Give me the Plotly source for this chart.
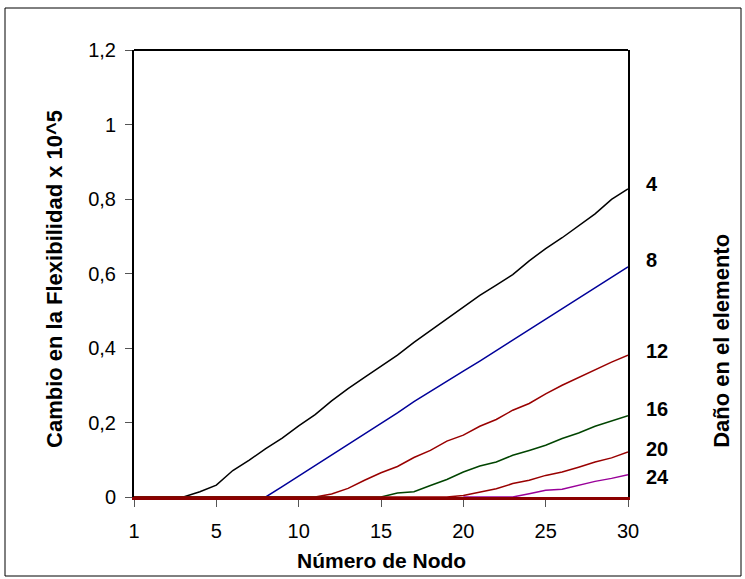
import plotly.graph_objects as go

# Node positions along the axis (tick "1" sits at the first position)
nodos = list(range(0, 31))
tick_vals = [0, 5, 10, 15, 20, 25, 30]
tick_text = ["1", "5", "10", "15", "20", "25", "30"]
y_tick_vals = [0, 0.2, 0.4, 0.6, 0.8, 1.0, 1.2]
y_tick_text = ["0", "0,2", "0,4", "0,6", "0,8", "1", "1,2"]

# Change in flexibility (x 10^5) for damage at element 4, 8, 12, 16, 20, 24
dano_4 = [0, 0, 0, 0, 0.014, 0.032, 0.071, 0.099, 0.130, 0.158, 0.191, 0.221, 0.258,
          0.291, 0.321, 0.350, 0.381, 0.415, 0.446, 0.479, 0.509, 0.541, 0.569,
          0.597, 0.634, 0.667, 0.696, 0.728, 0.760, 0.799, 0.827]
dano_8 = [0, 0, 0, 0, 0, 0, 0, 0, 0, 0.028, 0.056, 0.084, 0.112, 0.141, 0.169, 0.197,
          0.226, 0.256, 0.284, 0.311, 0.338, 0.365, 0.393, 0.421, 0.449, 0.477,
          0.504, 0.532, 0.560, 0.589, 0.618]
dano_12 = [0, 0, 0, 0, 0, 0, 0, 0, 0, 0, 0, 0, 0.008, 0.023, 0.045, 0.065, 0.082,
           0.106, 0.125, 0.150, 0.166, 0.190, 0.208, 0.233, 0.251, 0.277, 0.300,
           0.321, 0.342, 0.362, 0.381]
dano_16 = [0, 0, 0, 0, 0, 0, 0, 0, 0, 0, 0, 0, 0, 0, 0, 0, 0.011, 0.014, 0.031,
           0.047, 0.067, 0.083, 0.094, 0.112, 0.125, 0.139, 0.157, 0.172, 0.190,
           0.204, 0.218]
dano_20 = [0, 0, 0, 0, 0, 0, 0, 0, 0, 0, 0, 0, 0, 0, 0, 0, 0, 0, 0, 0, 0.004, 0.013,
           0.022, 0.036, 0.045, 0.058, 0.067, 0.080, 0.094, 0.105, 0.121]
nodos_24 = list(range(20, 31))
dano_24 = [0, 0, 0, 0, 0.009, 0.018, 0.021, 0.032, 0.042, 0.050, 0.060]

series = [
    ("4", nodos, dano_4, "#000000"),
    ("8", nodos, dano_8, "#000099"),
    ("12", nodos, dano_12, "#990000"),
    ("16", nodos, dano_16, "#004400"),
    ("20", nodos, dano_20, "#990000"),
    ("24", nodos_24, dano_24, "#990099"),
]
label_y = [0.84, 0.635, 0.391, 0.236, 0.128, 0.053]

fig = go.Figure()
for name, xs, ys, col in series:
    fig.add_trace(go.Scatter(x=xs, y=ys, mode="lines", name=name,
                             line=dict(color=col, width=1.5), showlegend=False))

font_family = "Liberation Sans, Arial, sans-serif"
for (name, xs, ys, col), ly in zip(series, label_y):
    fig.add_annotation(x=1 + 16 / 494, xref="paper", y=ly, yref="y", text="<b>%s</b>" % name,
                       showarrow=False, xanchor="left", yanchor="middle",
                       font=dict(size=20, color="black", family=font_family))

fig.add_annotation(x=-0.16, y=0.4877, xref="paper", yref="paper",
                   text="<b>Cambio en la Flexibilidad x 10^5</b>", textangle=-90,
                   showarrow=False, xanchor="center", yanchor="middle",
                   font=dict(size=22, color="black", family=font_family))
fig.add_annotation(x=0.5, y=-0.141, xref="paper", yref="paper",
                   text="<b>Número de Nodo</b>", showarrow=False,
                   xanchor="center", yanchor="middle",
                   font=dict(size=21, color="black", family=font_family))
fig.add_annotation(x=1.190, y=0.349, xref="paper", yref="paper",
                   text="<b>Daño en el elemento</b>", textangle=-90, showarrow=False,
                   xanchor="center", yanchor="middle",
                   font=dict(size=22, color="black", family=font_family))

# outer frame
fig.add_shape(type="rect", xref="paper", yref="paper",
              x0=(5 - 134) / 494, x1=(741 - 134) / 494,
              y0=(497 - 576) / 447, y1=(497 - 8) / 447,
              line=dict(color="black", width=1), layer="below")
# top border of plot area
fig.add_shape(type="line", xref="paper", yref="paper", x0=0, x1=1, y0=1, y1=1,
              line=dict(color="black", width=2), layer="below")

fig.update_layout(
    width=745, height=579,
    margin=dict(l=134, r=117, t=50, b=82),
    paper_bgcolor="white", plot_bgcolor="white",
    font=dict(family=font_family, color="black"),
    xaxis=dict(range=[0, 30], tickvals=tick_vals, ticktext=tick_text,
               showgrid=False, zeroline=False, showline=True, mirror=False,
               linecolor="#8B0000", linewidth=2.5, ticks="outside", ticklen=7,
               tickcolor="#555555", tickwidth=1, tickfont=dict(size=20),
               ticklabelstandoff=7, layer="below traces"),
    yaxis=dict(range=[0, 1.2], tickvals=y_tick_vals, ticktext=y_tick_text,
               showgrid=False, zeroline=False, showline=True, mirror=True,
               linecolor="black", linewidth=2, ticks="outside", ticklen=7,
               tickcolor="#555555", tickwidth=1, tickfont=dict(size=20),
               ticklabelstandoff=5, layer="below traces"),
)

fig.write_html("out.html")
